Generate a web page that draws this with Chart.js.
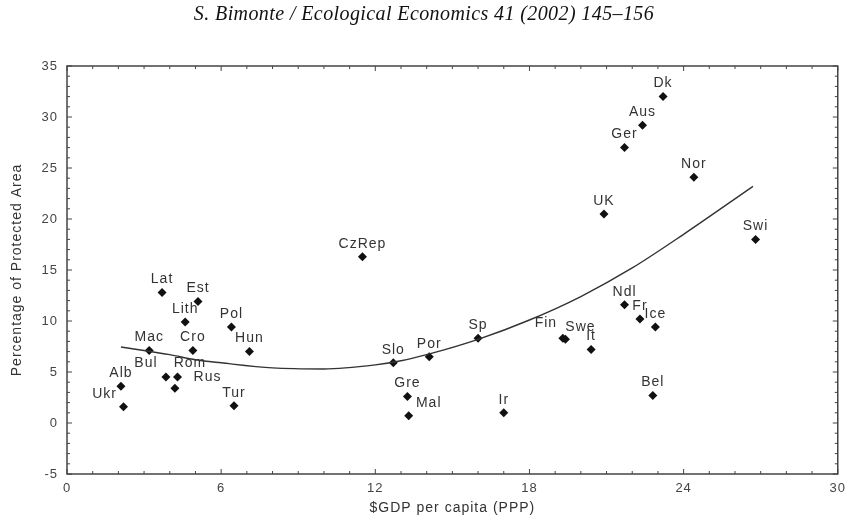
<!DOCTYPE html>
<html lang="en">
<head>
<meta charset="UTF-8" />
<title>Protected Area vs GDP</title>
<style>
  body { margin: 0; background: #fff; }
  #wrap { width: 852px; height: 526px; }
</style>
</head>
<body>
<div id="wrap"><canvas id="chart" width="852" height="526"></canvas></div>
<script src="https://cdn.jsdelivr.net/npm/chart.js"></script>
<script>
const countries = ['Ukr','Alb','Mac','Lat','Bul','Rus','Rom','Lith','Cro','Est','Pol','Tur','Hun',
  'CzRep','Slo','Gre','Mal','Por','Sp','Ir','Fin','Swe','It','UK','Ger','Ndl','Aus','Fr','Bel','Ice','Dk','Nor','Swi'];
const gdp = [2.2, 2.1, 3.2, 3.7, 3.85, 4.3, 4.2, 4.6, 4.9, 5.1, 6.4, 6.5, 7.1,
  11.5, 12.7, 13.25, 13.3, 14.1, 16.0, 17.0, 19.3, 19.4, 20.4, 20.9, 21.7, 21.7, 22.4, 22.3, 22.8, 22.9, 23.2, 24.4, 26.8];
const protectedArea = [1.6, 3.6, 7.1, 12.8, 4.5, 4.5, 3.4, 9.9, 7.1, 11.9, 9.4, 1.7, 7.0,
  16.3, 5.9, 2.6, 0.7, 6.5, 8.3, 1.0, 8.3, 8.2, 7.2, 20.5, 27.0, 11.6, 29.2, 10.2, 2.7, 9.4, 32.0, 24.1, 18.0];

// fitted curve
const fitGdp = [2.1, 4, 5, 6, 8, 10, 12, 13, 14, 16, 18, 20, 22, 24, 26.7];
const fitArea = [7.45, 6.7, 6.2, 5.9, 5.4, 5.3, 5.7, 6.1, 6.7, 8.2, 10.1, 12.4, 15.2, 18.5, 23.2];

const xTicks = [0, 6, 12, 18, 24, 30];
const yTicks = [-5, 0, 5, 10, 15, 20, 25, 30, 35];

// label nudges (px) for crowded points, default is straight above
const labelShift = { Ukr: [-19, -13], Bul: [-20, -14], Rom: [15, -25], Rus: [30, 0], Mal: [20, -13], Fin: [-17, -15], Swe: [15, -12] };

const spacingPlugin = {
  id: 'spacing',
  beforeDraw(chart) { chart.ctx.letterSpacing = '1px'; }
};

const labelsPlugin = {
  id: 'pointLabels',
  afterDatasetsDraw(chart) {
    const ctx = chart.ctx;
    const meta = chart.getDatasetMeta(1);
    ctx.save();
    ctx.font = '14px "Liberation Sans", Arial, sans-serif';
    ctx.letterSpacing = '1px';
    ctx.fillStyle = '#333';
    ctx.textAlign = 'center';
    ctx.textBaseline = 'middle';
    meta.data.forEach((pt, i) => {
      const s = labelShift[countries[i]] || [0, -13];
      ctx.fillText(countries[i], pt.x + s[0], pt.y + s[1]);
    });
    ctx.restore();
  }
};

const framePlugin = {
  id: 'frame',
  afterDraw(chart) {
    const { ctx, chartArea: a, scales: { x, y } } = chart;
    ctx.save();
    ctx.strokeStyle = '#444';
    ctx.lineWidth = 1.5;
    ctx.strokeRect(a.left, a.top, a.right - a.left, a.bottom - a.top);
    ctx.lineWidth = 1;
    ctx.beginPath();
    for (let v = x.min; v <= x.max; v++) {
      const px = x.getPixelForValue(v);
      const len = xTicks.includes(v) ? 5 : 3;
      ctx.moveTo(px, a.bottom); ctx.lineTo(px, a.bottom - len);
      ctx.moveTo(px, a.top); ctx.lineTo(px, a.top + len);
    }
    for (let v = y.min; v <= y.max; v++) {
      const py = y.getPixelForValue(v);
      const len = yTicks.includes(v) ? 5 : 3;
      ctx.moveTo(a.left, py); ctx.lineTo(a.left + len, py);
      ctx.moveTo(a.right, py); ctx.lineTo(a.right - len, py);
    }
    ctx.stroke();
    // journal running header
    ctx.font = 'italic 20px "Liberation Serif", serif';
    ctx.letterSpacing = '0.4px';
    ctx.fillStyle = '#111';
    ctx.textAlign = 'center';
    ctx.textBaseline = 'middle';
    ctx.fillText('S. Bimonte / Ecological Economics 41 (2002) 145\u2013156', 424, 15);
    ctx.restore();
  }
};

const tickFont = { family: '"Liberation Sans", Arial, sans-serif', size: 13 };
const titleFont = { family: '"Liberation Sans", Arial, sans-serif', size: 14 };

new Chart(document.getElementById('chart'), {
  type: 'scatter',
  data: {
    datasets: [{
      type: 'line',
      data: fitGdp.map((g, i) => ({ x: g, y: fitArea[i] })),
      borderColor: '#333',
      borderWidth: 1.4,
      pointRadius: 0,
      cubicInterpolationMode: 'monotone',
      fill: false
    }, {
      data: gdp.map((g, i) => ({ x: g, y: protectedArea[i] })),
      pointStyle: 'rectRot',
      pointRadius: 4.5,
      backgroundColor: '#111',
      borderColor: '#111',
      borderWidth: 0
    }]
  },
  options: {
    responsive: false,
    animation: false,
    devicePixelRatio: 1,
    layout: { padding: { top: 66, right: 14, left: 0, bottom: 0 } },
    plugins: { legend: { display: false }, tooltip: { enabled: false } },
    scales: {
      x: {
        type: 'linear', min: 0, max: 30,
        afterFit(s) { s.height = 52; },
        afterBuildTicks(s) { s.ticks = xTicks.map(v => ({ value: v })); },
        grid: { display: false, drawTicks: false },
        border: { display: false },
        ticks: { color: '#444', font: tickFont, padding: 7 },
        title: { display: true, text: '$GDP per capita (PPP)', color: '#333', font: titleFont, padding: { top: 0, bottom: 9 } }
      },
      y: {
        min: -5, max: 35,
        afterFit(s) { s.width = 67; },
        afterBuildTicks(s) { s.ticks = yTicks.map(v => ({ value: v })); },
        grid: { display: false, drawTicks: false },
        border: { display: false },
        ticks: { color: '#444', font: tickFont, padding: 9 },
        title: { display: true, text: 'Percentage of Protected Area', color: '#333', font: titleFont, padding: { top: 9, bottom: 0 } }
      }
    }
  },
  plugins: [spacingPlugin, labelsPlugin, framePlugin]
});
</script>
</body>
</html>
